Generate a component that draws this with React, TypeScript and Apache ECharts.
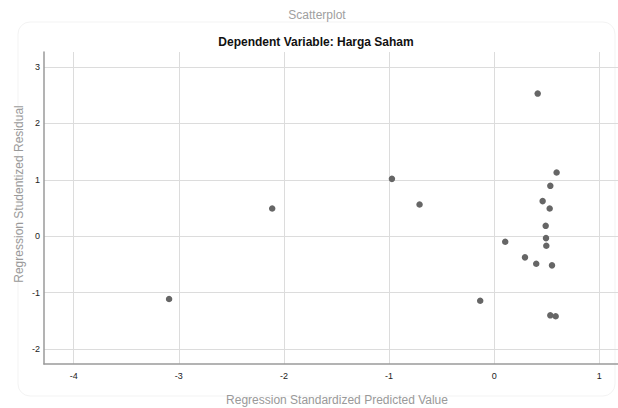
import React, { useEffect, useRef } from "react";
import * as echarts from "echarts";

const predicted = [
  -3.093, -2.112, -0.973, -0.71, -0.133, 0.105, 0.293, 0.4, 0.414, 0.461,
  0.49, 0.493, 0.496, 0.534, 0.528, 0.55, 0.594, 0.534, 0.585,
];
const residual = [
  -1.114, 0.492, 1.017, 0.563, -1.144, -0.099, -0.375, -0.489, 2.529, 0.622,
  0.184, -0.034, -0.17, 0.893, 0.492, -0.517, 1.13, -1.403, -1.42,
];
const xTicks = [-4, -3, -2, -1, 0, 1];
const yTicks = [-2, -1, 0, 1, 2, 3];

export default function App() {
  const ref = useRef<HTMLDivElement>(null);
  useEffect(() => {
    if (!ref.current) return;
    const chart = echarts.init(ref.current, null, { renderer: "svg" });
    const font = "Liberation Sans, Arial, sans-serif";
    chart.setOption({
      animation: false,
      backgroundColor: "#ffffff",
      grid: { left: 44, right: 0, top: 52, bottom: 44, containLabel: false },
      graphic: [
        {
          type: "rect",
          shape: { x: 18, y: 22, width: 597, height: 374, r: 12 },
          style: { fill: "none", stroke: "#f3f3f3", lineWidth: 1 },
          z: -10,
        },
        {
          type: "text",
          x: 317,
          y: 15,
          style: {
            text: "Scatterplot",
            fill: "#a0a0a0",
            font: `12px ${font}`,
            textAlign: "center",
            textVerticalAlign: "middle",
          },
        },
        {
          type: "text",
          x: 316,
          y: 42,
          style: {
            text: "Dependent Variable: Harga Saham",
            fill: "#111111",
            font: `bold 12px ${font}`,
            textAlign: "center",
            textVerticalAlign: "middle",
          },
        },
        {
          type: "text",
          x: 337,
          y: 400,
          style: {
            text: "Regression Standardized Predicted Value",
            fill: "#999999",
            font: `12px ${font}`,
            textAlign: "center",
            textVerticalAlign: "middle",
          },
        },
        {
          type: "text",
          x: 19,
          y: 194,
          rotation: Math.PI / 2,
          style: {
            text: "Regression Studentized Residual",
            fill: "#999999",
            font: `12px ${font}`,
            textAlign: "center",
            textVerticalAlign: "middle",
          },
        },
      ],
      xAxis: {
        type: "value",
        min: -4.283,
        max: 1.178,
        axisLine: { show: true, onZero: false, lineStyle: { color: "#9a9a9a", width: 1.5 } },
        axisTick: { show: false, customValues: xTicks },
        splitLine: { show: true, lineStyle: { color: "#dcdcdc", width: 1 } },
        axisLabel: {
          color: "#222",
          fontSize: 9,
          fontFamily: font,
          margin: 7,
          customValues: xTicks,
          formatter: (v: number) => String(Math.round(v)),
        },
        axisPointer: { show: false },
      },
      yAxis: {
        type: "value",
        min: -2.266,
        max: 3.266,
        axisLine: { show: true, onZero: false, lineStyle: { color: "#9a9a9a", width: 1.5 } },
        axisTick: { show: false, customValues: yTicks },
        splitLine: { show: true, lineStyle: { color: "#dcdcdc", width: 1 } },
        axisLabel: {
          color: "#222",
          fontSize: 9,
          fontFamily: font,
          margin: 4,
          customValues: yTicks,
          formatter: (v: number) => String(Math.round(v)),
        },
      },
      series: [
        {
          type: "scatter",
          data: predicted.map((x, i) => [x, residual[i]]),
          symbol: "circle",
          symbolSize: 6.5,
          itemStyle: { color: "#666666", opacity: 1 },
        },
      ],
    });
    return () => chart.dispose();
  }, []);
  return <div ref={ref} style={{ width: 618, height: 408, position: "absolute", left: 0, top: 0 }} />;
}
